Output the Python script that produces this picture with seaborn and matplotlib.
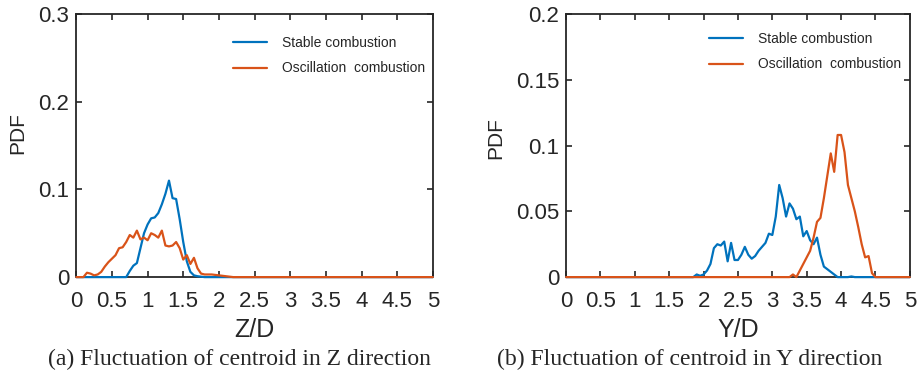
import pandas as pd
import matplotlib.pyplot as plt
import seaborn as sns

# (a) Z direction
z_stable_x = [0, 0.7, 0.75, 0.8, 0.85, 0.9, 0.95, 1.0, 1.05, 1.1, 1.15, 1.2, 1.25, 1.3, 1.35,
              1.4, 1.45, 1.5, 1.55, 1.6, 1.65, 1.7, 1.8, 5]
z_stable_y = [0, 0, 0.007, 0.013, 0.016, 0.033, 0.05, 0.06, 0.067, 0.068, 0.073, 0.083, 0.095, 0.11, 0.09,
              0.089, 0.066, 0.04, 0.018, 0.006, 0.002, 0.001, 0, 0]
z_osc_x = [0, 0.1, 0.15, 0.2, 0.25, 0.3, 0.35, 0.4, 0.45, 0.5, 0.55, 0.6, 0.65, 0.7, 0.75, 0.8,
           0.85, 0.9, 0.95, 1.0, 1.05, 1.1, 1.15, 1.2, 1.25, 1.3, 1.35, 1.4, 1.45, 1.5, 1.55,
           1.6, 1.65, 1.7, 1.75, 1.8, 1.9, 2.0, 2.1, 2.2, 5]
z_osc_y = [0, 0, 0.005, 0.004, 0.002, 0.003, 0.006, 0.012, 0.017, 0.021, 0.025, 0.033, 0.034, 0.04, 0.048, 0.045,
           0.053, 0.043, 0.045, 0.042, 0.05, 0.048, 0.045, 0.053, 0.036, 0.035, 0.036, 0.04, 0.033, 0.02,
           0.025, 0.015, 0.022, 0.01, 0.004, 0.003, 0.003, 0.002, 0.001, 0, 0]

# (b) Y direction
y_stable_x = [0, 1.85, 1.9, 1.95, 2.0, 2.05, 2.1, 2.15, 2.2, 2.25, 2.3, 2.35, 2.4, 2.45, 2.5, 2.55,
              2.6, 2.65, 2.7, 2.75, 2.8, 2.85, 2.9, 2.95, 3.0, 3.05, 3.1, 3.15, 3.2, 3.25, 3.3,
              3.35, 3.4, 3.45, 3.5, 3.55, 3.6, 3.65, 3.7, 3.75, 3.8, 3.85, 3.9, 3.95, 4.1, 4.15, 4.2, 5]
y_stable_y = [0, 0, 0.002, 0.001, 0.002, 0.005, 0.01, 0.022, 0.025, 0.024, 0.027, 0.012, 0.026, 0.013, 0.013, 0.017,
              0.023, 0.017, 0.014, 0.016, 0.02, 0.023, 0.026, 0.033, 0.032, 0.046, 0.07, 0.06, 0.046, 0.056, 0.052,
              0.044, 0.046, 0.031, 0.035, 0.028, 0.025, 0.03, 0.017, 0.008, 0.006, 0.004, 0.002, 0, 0, 0.0005, 0, 0]
y_osc_x = [0, 3.25, 3.3, 3.35, 3.4, 3.45, 3.5, 3.55, 3.6, 3.65, 3.7, 3.75, 3.8, 3.85, 3.9, 3.95,
           4.0, 4.05, 4.1, 4.15, 4.2, 4.25, 4.3, 4.35, 4.4, 4.45, 4.5, 5]
y_osc_y = [0, 0, 0.002, 0, 0.005, 0.01, 0.015, 0.02, 0.03, 0.042, 0.045, 0.06, 0.077, 0.094, 0.08, 0.108,
           0.108, 0.095, 0.07, 0.06, 0.05, 0.038, 0.025, 0.015, 0.016, 0.003, 0, 0]

labels = ["Stable combustion", "Oscillation  combustion"]
colors = ["#0072BD", "#D95319"]

sns.set_style("ticks")
plt.rcParams['font.family'] = ['Liberation Sans', 'DejaVu Sans']


def make_df(xs1, ys1, xs2, ys2):
    d1 = pd.DataFrame({'x': xs1, 'y': ys1, 'case': labels[0]})
    d2 = pd.DataFrame({'x': xs2, 'y': ys2, 'case': labels[1]})
    return pd.concat([d1, d2], ignore_index=True)


fig = plt.figure(figsize=(9.19, 3.76), dpi=100)
ax1 = fig.add_axes([0.083, 0.263, 0.388, 0.70])
ax2 = fig.add_axes([0.616, 0.263, 0.374, 0.70])

panels = [
    (ax1, make_df(z_stable_x, z_stable_y, z_osc_x, z_osc_y), "Z/D", 0.3, [0, 0.1, 0.2, 0.3],
     ["0", "0.1", "0.2", "0.3"], (0.405, 0.965)),
    (ax2, make_df(y_stable_x, y_stable_y, y_osc_x, y_osc_y), "Y/D", 0.2, [0, 0.05, 0.1, 0.15, 0.2],
     ["0", "0.05", "0.1", "0.15", "0.2"], (0.38, 0.98)),
]

for ax, df, xlab, ymax, yt, ytl, anchor in panels:
    sns.lineplot(data=df, x='x', y='y', hue='case', palette=colors, linewidth=1.6, ax=ax,
                 estimator=None, sort=False)
    for ln in ax.lines:
        ln.set_clip_on(False)
        ln.set_zorder(3)
    ax.set_xlim(0, 5)
    ax.set_ylim(0, ymax)
    ax.set_xticks([0, 0.5, 1, 1.5, 2, 2.5, 3, 3.5, 4, 4.5, 5])
    ax.set_xticklabels(["0", "0.5", "1", "1.5", "2", "2.5", "3", "3.5", "4", "4.5", "5"])
    ax.set_yticks(yt)
    ax.set_yticklabels(ytl)
    ax.tick_params(direction='in', top=True, right=True, length=4, width=1.2,
                   labelsize=16, colors='#262626')
    ax.tick_params(axis='x', pad=10)
    ax.tick_params(axis='y', pad=5)
    for s in ax.spines.values():
        s.set_linewidth(1.3)
        s.set_color('#262626')
    ax.set_xlabel(xlab, fontsize=18, labelpad=4)
    ax.set_ylabel("PDF", fontsize=15)
    ax.legend(loc='upper left', bbox_to_anchor=anchor, frameon=False, fontsize=10,
              handlelength=2.4, handletextpad=1.1, labelspacing=0.85, title=None)

ax1.yaxis.set_label_coords(-0.137, 0.548)
ax2.yaxis.set_label_coords(-0.177, 0.53)

fig.text(0.26, 0.043, "(a) Fluctuation of centroid in Z direction", ha='center', va='center',
         fontsize=17, family='Liberation Serif')
fig.text(0.75, 0.043, "(b) Fluctuation of centroid in Y direction", ha='center', va='center',
         fontsize=17, family='Liberation Serif')

fig.savefig("out.png", dpi=100)
